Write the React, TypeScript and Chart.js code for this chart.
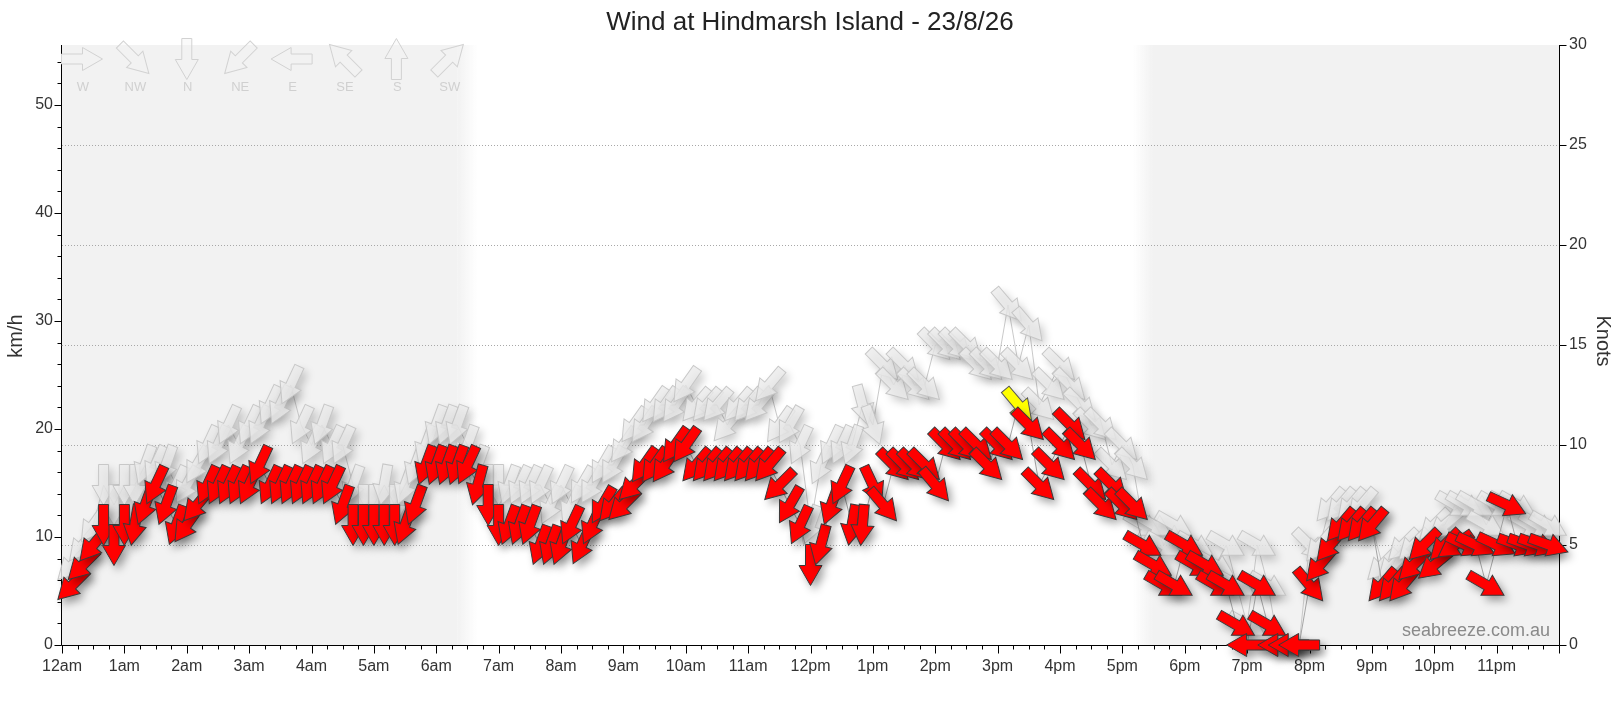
import React, { useEffect, useRef } from "react";
import { Chart, registerables } from "chart.js";

Chart.register(...registerables);

const TITLE = "Wind at Hindmarsh Island - 23/8/26";
const WATERMARK = "seabreeze.com.au";
const FONT = "'Liberation Sans', Arial, sans-serif";

const HOUR_LABELS = [
  "12am", "1am", "2am", "3am", "4am", "5am", "6am", "7am", "8am", "9am", "10am", "11am",
  "12pm", "1pm", "2pm", "3pm", "4pm", "5pm", "6pm", "7pm", "8pm", "9pm", "10pm", "11pm",
];

const LEGEND_NAMES = ["W", "NW", "N", "NE", "E", "SE", "S", "SW"];
const LEGEND_DIRS = [270, 315, 0, 45, 90, 135, 180, 225];

// night periods (hours)
const NIGHT_PERIODS: [number, number][] = [
  [0, 6.5],
  [17.33, 24],
];

const KMH_PER_KNOT = 1.852;
const MAX_KNOTS = 30;

const TIMES = [
  "0:10", "0:20", "0:30", "0:40", "0:50",
  "1:00", "1:10", "1:20", "1:30", "1:40", "1:50",
  "2:00", "2:10", "2:20", "2:30", "2:40", "2:50",
  "3:00", "3:10", "3:20", "3:30", "3:40", "3:50",
  "4:00", "4:10", "4:20", "4:30", "4:40", "4:50",
  "5:00", "5:10", "5:20", "5:30", "5:40", "5:50",
  "6:00", "6:10", "6:20", "6:30", "6:40", "6:50",
  "7:00", "7:10", "7:20", "7:30", "7:40", "7:50",
  "8:00", "8:10", "8:20", "8:30", "8:40", "8:50",
  "9:00", "9:10", "9:20", "9:30", "9:40", "9:50",
  "10:00", "10:10", "10:20", "10:30", "10:40", "10:50",
  "11:00", "11:10", "11:20", "11:30", "11:40", "11:50",
  "12:00", "12:10", "12:20", "12:30", "12:40", "12:50",
  "13:00", "13:10", "13:20", "13:30", "13:40", "13:50",
  "14:00", "14:10", "14:20", "14:30", "14:40", "14:50",
  "15:00", "15:10", "15:20", "15:30", "15:40", "15:50",
  "16:00", "16:10", "16:20", "16:30", "16:40", "16:50",
  "17:00", "17:10", "17:20", "17:30", "17:40", "17:50",
  "18:00", "18:10", "18:20", "18:30", "18:40", "18:50",
  "19:00", "19:10", "19:20", "19:30", "19:40", "19:50",
  "20:00", "20:10", "20:20", "20:30", "20:40", "20:50",
  "21:00", "21:10", "21:20", "21:30", "21:40", "21:50",
  "22:00", "22:10", "22:20", "22:30", "22:40", "22:50",
  "23:00", "23:10", "23:20", "23:30", "23:40", "23:50",
];

// average wind, knots
const WIND_KT = [
  3, 4, 5, 6, 5,
  6, 6, 7, 8, 7, 6,
  6, 7, 8, 8, 8, 8,
  8, 9, 8, 8, 8, 8,
  8, 8, 8, 7, 6, 6,
  6, 6, 6, 6, 7, 9,
  9, 9, 9, 9, 8, 7,
  6, 6, 6, 6, 5, 5,
  5, 6, 5, 6, 7, 7,
  7, 8, 9, 9, 9, 10,
  10, 9, 9, 9, 9, 9,
  9, 9, 9, 8, 7, 6,
  4, 5, 7, 8, 6, 6,
  8, 7, 9, 9, 9, 9,
  8, 10, 10, 10, 10, 9,
  10, 10, 12, 11, 8, 9,
  10, 11, 10, 8, 7, 8,
  7, 7, 5, 4, 3, 3,
  5, 4, 4, 3, 3, 1,
  0, 3, 1, 0, 0, 0,
  3, 4, 5, 6, 6, 6,
  6, 3, 3, 3, 4, 5,
  4, 5, 5, 5, 5, 3,
  5, 7, 5, 5, 5, 5,
];

// average wind direction (degrees, from)
const WIND_DIR = [
  45, 45, 40, 0, 0,
  0, 10, 20, 25, 20, 20,
  35, 40, 25, 25, 25, 25,
  25, 25, 25, 25, 25, 25,
  25, 25, 25, 20, 0, 0,
  0, 0, 0, 20, 20, 20,
  20, 20, 20, 25, 15, 0,
  0, 20, 20, 20, 20, 20,
  20, 25, 25, 25, 30, 40,
  45, 45, 35, 35, 35, 35,
  35, 40, 40, 40, 40, 40,
  40, 40, 40, 45, 30, 25,
  0, 15, 20, 25, 10, 5,
  335, 320, 315, 315, 315, 315,
  320, 315, 315, 315, 315, 315,
  315, 315, 320, 315, 315, 315,
  315, 315, 315, 315, 315, 315,
  315, 315, 300, 300, 300, 300,
  300, 300, 300, 300, 300, 300,
  90, 300, 300, 90, 90, 90,
  320, 40, 40, 40, 40, 40,
  40, 40, 40, 40, 45, 45,
  50, 45, 55, 295, 295, 300,
  295, 295, 290, 290, 290, 290,
];

// gusts, knots
const GUST_KT = [
  4, 5, 6, 8, 7,
  8, 8, 9, 9, 9, 8,
  8, 9, 10, 10, 11, 10,
  11, 11, 12, 12, 13, 11,
  10, 11, 10, 10, 8, 7,
  7, 8, 7, 8, 9, 10,
  11, 11, 11, 10, 9, 8,
  8, 8, 8, 8, 8, 7,
  8, 7, 8, 8, 9, 9,
  10, 11, 11, 12, 12, 12,
  13, 12, 12, 12, 11, 12,
  12, 12, 13, 11, 11, 10,
  6, 9, 10, 10, 10, 12,
  11, 14, 13, 14, 13, 13,
  15, 15, 15, 15, 14, 14,
  14, 17, 14, 16, 12, 13,
  14, 13, 12, 11, 11, 9,
  10, 9, 6, 6, 5, 6,
  5, 5, 4, 4, 5, 3,
  1, 5, 3, 0, 0, 0,
  5, 5, 7, 7, 7, 7,
  6, 4, 4, 5, 5, 5,
  6, 6, 7, 7, 7, 6,
  7, 7, 7, 6, 6, 6,
];

// gust direction (degrees, from)
const GUST_DIR = [
  45, 40, 35, 0, 0,
  0, 0, 20, 25, 20, 25,
  30, 30, 25, 25, 25, 25,
  25, 25, 25, 25, 25, 25,
  25, 20, 25, 25, 20, 0,
  0, 10, 0, 20, 20, 20,
  20, 20, 20, 20, 20, 0,
  0, 20, 25, 25, 25, 25,
  25, 25, 30, 30, 30, 30,
  35, 35, 35, 35, 35, 35,
  35, 40, 40, 40, 40, 40,
  40, 40, 40, 35, 30, 25,
  20, 25, 25, 25, 20, 345,
  340, 315, 315, 315, 315, 315,
  315, 315, 315, 315, 315, 315,
  315, 320, 315, 320, 315, 315,
  315, 315, 315, 315, 315, 315,
  315, 315, 300, 300, 300, 300,
  300, 300, 300, 300, 300, 300,
  300, 300, 300, 90, 90, 90,
  315, 40, 40, 40, 40, 40,
  40, 45, 45, 45, 45, 45,
  45, 50, 300, 300, 300, 300,
  300, 300, 300, 300, 300, 300,
];

function toHours(s: string): number {
  const [h, m] = s.split(":").map(Number);
  return h + m / 60;
}

type ArrowStyle = { fill: string; stroke: string; shadow: string | null };

function drawArrow(ctx: CanvasRenderingContext2D, x: number, y: number, fromDeg: number, st: ArrowStyle) {
  ctx.save();
  ctx.translate(x, y);
  ctx.rotate(((fromDeg + 180) * Math.PI) / 180);
  ctx.beginPath();
  ctx.moveTo(0, -20.5);
  ctx.lineTo(11.5, -0.5);
  ctx.lineTo(5, -0.5);
  ctx.lineTo(5, 20.5);
  ctx.lineTo(-5, 20.5);
  ctx.lineTo(-5, -0.5);
  ctx.lineTo(-11.5, -0.5);
  ctx.closePath();
  if (st.shadow) {
    ctx.shadowColor = st.shadow;
    ctx.shadowBlur = 8;
    ctx.shadowOffsetX = 4;
    ctx.shadowOffsetY = 5;
  }
  ctx.fillStyle = st.fill;
  ctx.fill();
  ctx.shadowColor = "rgba(0,0,0,0)";
  ctx.shadowBlur = 0;
  ctx.shadowOffsetX = 0;
  ctx.shadowOffsetY = 0;
  ctx.strokeStyle = st.stroke;
  ctx.lineWidth = 1;
  ctx.stroke();
  ctx.restore();
}

function pickTitleFont(ctx: CanvasRenderingContext2D, text: string, targetW: number): string {
  ctx.font = "30px monospace";
  const mono = ctx.measureText(text).width;
  const narrow = "'Liberation Sans Narrow'";
  ctx.font = `30px ${narrow}, monospace`;
  const wn = ctx.measureText(text).width;
  if (Math.abs(wn - mono) > 1) {
    return `${((30 * targetW) / wn).toFixed(1)}px ${narrow}`;
  }
  return `26px ${FONT}`;
}

const decorPlugin = {
  id: "windDecor",
  beforeDatasetsDraw(chart: any) {
    const { ctx, chartArea: a, scales } = chart;
    const xs = scales.x;
    const yl = scales.y;
    const yr = scales.y2;
    ctx.save();

    // night shading
    const fade = 10;
    const night = "#f2f2f2";
    NIGHT_PERIODS.forEach(([s, e]) => {
      const ps = xs.getPixelForValue(s);
      const pe = xs.getPixelForValue(e);
      const solidL = s <= 0 ? a.left : ps + fade;
      const solidR = e >= 24 ? a.right : pe - fade;
      ctx.fillStyle = night;
      ctx.fillRect(solidL, a.top, solidR - solidL, a.bottom - a.top);
      if (s > 0) {
        const g = ctx.createLinearGradient(ps - fade, 0, ps + fade, 0);
        g.addColorStop(0, "rgba(242,242,242,0)");
        g.addColorStop(1, night);
        ctx.fillStyle = g;
        ctx.fillRect(ps - fade, a.top, fade * 2, a.bottom - a.top);
      }
      if (e < 24) {
        const g = ctx.createLinearGradient(pe - fade, 0, pe + fade, 0);
        g.addColorStop(0, night);
        g.addColorStop(1, "rgba(242,242,242,0)");
        ctx.fillStyle = g;
        ctx.fillRect(pe - fade, a.top, fade * 2, a.bottom - a.top);
      }
    });

    // dotted grid lines from the knots axis
    ctx.strokeStyle = "#a8a8a8";
    ctx.lineWidth = 1;
    ctx.setLineDash([1, 2]);
    for (let k = 5; k < MAX_KNOTS; k += 5) {
      const py = Math.round(yr.getPixelForValue(k)) + 0.5;
      ctx.beginPath();
      ctx.moveTo(a.left, py);
      ctx.lineTo(a.right, py);
      ctx.stroke();
    }
    ctx.setLineDash([]);

    // axis lines and tick marks
    ctx.strokeStyle = "#000";
    ctx.lineWidth = 1;
    const L = Math.round(a.left) - 0.5;
    const R = Math.round(a.right) + 0.5;
    const B = Math.round(a.bottom) + 0.5;
    ctx.beginPath();
    ctx.moveTo(L, a.top);
    ctx.lineTo(L, B);
    ctx.lineTo(R, B);
    ctx.moveTo(R, a.top);
    ctx.lineTo(R, B);
    for (let q = 0; q <= 96; q++) {
      const px = Math.round(xs.getPixelForValue(q / 4)) + 0.5;
      const len = q % 4 === 0 ? 8 : 4;
      ctx.moveTo(px, B);
      ctx.lineTo(px, B + len);
    }
    for (let v = 0; v <= 54; v += 2) {
      const py = Math.round(yl.getPixelForValue(v)) + 0.5;
      const len = v % 10 === 0 ? 7 : 4;
      ctx.moveTo(L - len, py);
      ctx.lineTo(L, py);
    }
    for (let k = 0; k <= MAX_KNOTS; k += 5) {
      const py = Math.round(yr.getPixelForValue(k)) + 0.5;
      ctx.moveTo(R, py);
      ctx.lineTo(R + 7, py);
    }
    ctx.stroke();

    // direction legend
    const legendStyle: ArrowStyle = { fill: "rgba(242,242,242,0.4)", stroke: "#d2d2d2", shadow: null };
    ctx.font = `13px ${FONT}`;
    ctx.fillStyle = "#d0d0d0";
    ctx.textAlign = "center";
    ctx.textBaseline = "middle";
    LEGEND_DIRS.forEach((d, i) => {
      const cx = a.left + 20 + i * 52.4;
      const cy = a.top + 14;
      drawArrow(ctx, cx, cy, d, legendStyle);
      ctx.fillText(LEGEND_NAMES[i], cx + 1, a.top + 42);
    });
    ctx.restore();
  },
  afterDatasetDraw(chart: any, args: any) {
    const ds: any = chart.data.datasets[args.index];
    if (!ds.arrow) return;
    const ctx = chart.ctx;
    const pts = args.meta.data;
    ctx.save();
    pts.forEach((p: any, i: number) => {
      const st: ArrowStyle = ds.arrow.styleAt(i);
      drawArrow(ctx, p.x, p.y, ds.arrow.dirs[i], st);
    });
    ctx.restore();
  },
  afterDraw(chart: any) {
    const { ctx, chartArea: a } = chart;
    ctx.save();
    // title
    ctx.fillStyle = "#222";
    ctx.font = pickTitleFont(ctx, TITLE, 426);
    ctx.textAlign = "center";
    ctx.textBaseline = "middle";
    ctx.fillText(TITLE, chart.width / 2, 23);

    // axis titles
    ctx.fillStyle = "#333";
    ctx.font = `20px ${FONT}`;
    ctx.save();
    ctx.translate(16, 336);
    ctx.rotate(-Math.PI / 2);
    ctx.fillText("km/h", 0, 0);
    ctx.restore();
    ctx.save();
    ctx.translate(1603, 341);
    ctx.rotate(Math.PI / 2);
    ctx.fillText("Knots", 0, 0);
    ctx.restore();

    // watermark
    ctx.font = `18px ${FONT}`;
    ctx.fillStyle = "#8a8a8a";
    ctx.textAlign = "right";
    ctx.textBaseline = "alphabetic";
    ctx.fillText(WATERMARK, a.right - 9, a.bottom - 9);
    ctx.restore();
  },
};

export default function App() {
  const ref = useRef<HTMLCanvasElement>(null);

  useEffect(() => {
    const canvas = ref.current;
    if (!canvas) return;
    const hours = TIMES.map(toHours);
    const windKmh = WIND_KT.map((k) => k * KMH_PER_KNOT);
    const gustKmh = GUST_KT.map((k) => k * KMH_PER_KNOT);
    const maxWind = Math.max(...WIND_KT);
    const maxIdx = WIND_KT.indexOf(maxWind);

    const redStyle: ArrowStyle = { fill: "#ff0000", stroke: "#3a3a3a", shadow: "rgba(0,0,0,0.38)" };
    const yellowStyle: ArrowStyle = { fill: "#ffff00", stroke: "#555", shadow: "rgba(0,0,0,0.38)" };
    const grayStyle: ArrowStyle = { fill: "rgba(235,235,235,0.8)", stroke: "rgba(195,195,195,0.9)", shadow: "rgba(0,0,0,0.26)" };

    const tickFont = { family: FONT, size: 16 };

    const chart = new Chart(canvas, {
      type: "line",
      data: {
        datasets: [
          {
            label: "Gust",
            data: hours.map((h, i) => ({ x: h, y: gustKmh[i] })),
            borderColor: "rgba(195,195,195,0.9)",
            borderWidth: 1,
            pointRadius: 0,
            yAxisID: "y",
            order: 2,
            arrow: { dirs: GUST_DIR, styleAt: () => grayStyle },
          } as any,
          {
            label: "Wind",
            data: hours.map((h, i) => ({ x: h, y: windKmh[i] })),
            borderColor: "rgba(150,150,150,0.85)",
            borderWidth: 1,
            pointRadius: 0,
            yAxisID: "y",
            order: 1,
            arrow: { dirs: WIND_DIR, styleAt: (i: number) => (i === maxIdx ? yellowStyle : redStyle) },
          } as any,
        ],
      },
      options: {
        animation: false,
        responsive: false,
        maintainAspectRatio: false,
        layout: { padding: { top: 45, left: 0, right: 0, bottom: 0 } },
        plugins: {
          legend: { display: false },
          tooltip: { enabled: false },
          title: { display: false },
        },
        scales: {
          x: {
            type: "linear",
            min: 0,
            max: 24,
            afterFit: (s: any) => {
              s.height = 68;
            },
            ticks: {
              stepSize: 1,
              autoSkip: false,
              maxRotation: 0,
              minRotation: 0,
              padding: 4,
              color: "#333",
              font: tickFont,
              callback: (v: any) => {
                const n = Number(v);
                return Number.isInteger(n) && n < 24 ? HOUR_LABELS[n] : "";
              },
            },
            grid: { display: true, drawOnChartArea: false, drawTicks: true, tickLength: 8, tickColor: "rgba(0,0,0,0)" },
            border: { display: false },
          },
          y: {
            type: "linear",
            position: "left",
            min: 0,
            max: MAX_KNOTS * KMH_PER_KNOT,
            afterFit: (s: any) => {
              s.width = 62;
            },
            ticks: { stepSize: 10, includeBounds: false, padding: 3, color: "#333", font: tickFont },
            grid: { display: true, drawOnChartArea: false, drawTicks: true, tickLength: 6, tickColor: "rgba(0,0,0,0)" },
            border: { display: false },
          },
          y2: {
            type: "linear",
            position: "right",
            min: 0,
            max: MAX_KNOTS,
            afterFit: (s: any) => {
              s.width = 61;
            },
            ticks: { stepSize: 5, padding: 3, color: "#333", font: tickFont },
            grid: { display: true, drawOnChartArea: false, drawTicks: true, tickLength: 7, tickColor: "rgba(0,0,0,0)" },
            border: { display: false },
          },
        },
      } as any,
      plugins: [decorPlugin],
    });

    return () => chart.destroy();
  }, []);

  return (
    <div style={{ position: "absolute", left: 0, top: 0, width: 1620, height: 713, background: "#fff" }}>
      <canvas ref={ref} width={1620} height={713} style={{ display: "block", width: 1620, height: 713 }} />
    </div>
  );
}
